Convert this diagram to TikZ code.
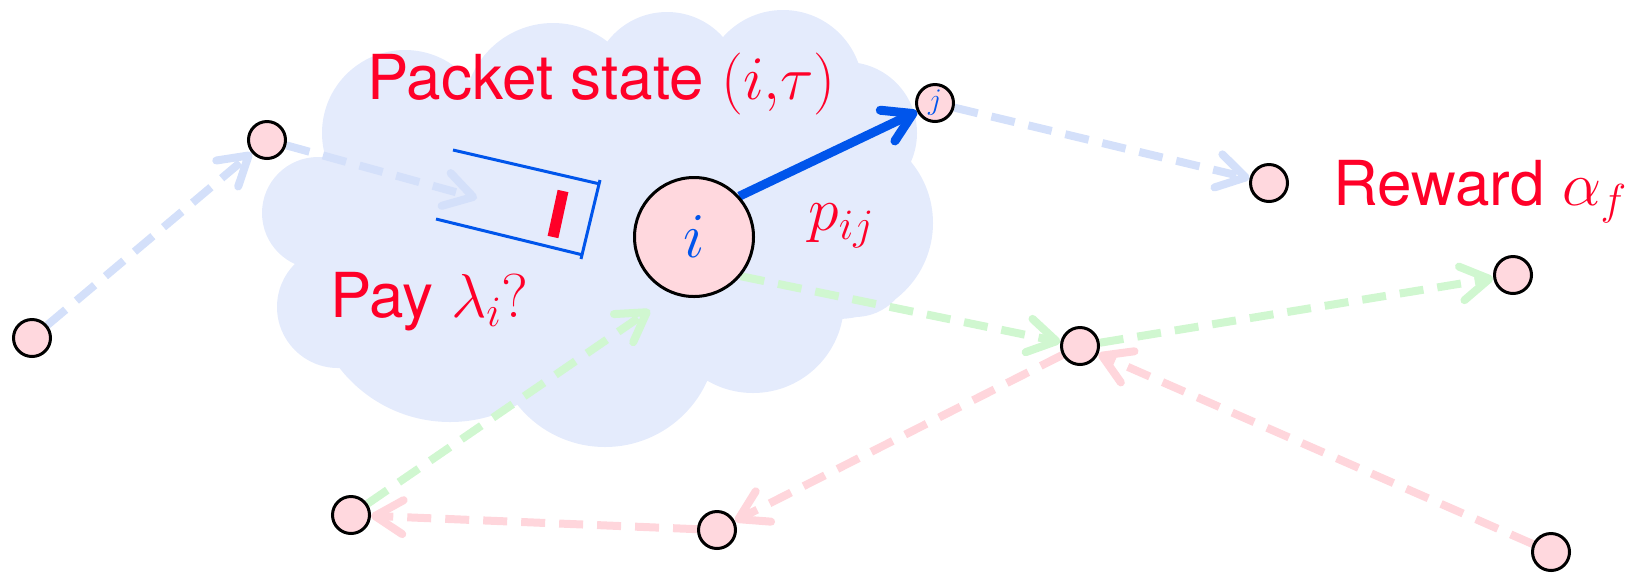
\documentclass[tikz,border=0pt]{standalone}
\usepackage{fix-cm}
\usepackage{fontspec}
\setmainfont{TeX Gyre Heros}
\usepackage{amsmath}
\usetikzlibrary{arrows.meta,calc}

\definecolor{cloudblue}{RGB}{228,235,252}
\definecolor{nodepink}{RGB}{255,216,222}
\definecolor{textred}{RGB}{255,0,40}
\definecolor{linkblue}{RGB}{0,85,235}
\definecolor{paleblue}{RGB}{212,224,250}
\definecolor{palegreen}{RGB}{208,247,208}
\definecolor{palepink}{RGB}{255,214,220}

\pgfdeclarelayer{cloud}
\pgfdeclarelayer{links}
\pgfsetlayers{cloud,links,main}

\begin{document}
\begin{tikzpicture}[x=0.5pt,y=-0.5pt,
  hop/.style={circle,draw=black,line width=1.5pt,fill=nodepink,
              minimum size=18.5pt,inner sep=0pt},
  router/.style={hop,minimum size=59.5pt,text=linkblue,
                 font=\fontsize{32}{36}\selectfont},
  lab/.style={text=textred,font=\fontsize{31}{36}\selectfont,
              inner sep=0pt,anchor=base west},
  tip/.style={-{Straight Barb[length=14pt,width=17pt,line cap=round,line join=round]}},
  flow/.style={tip,line width=4pt,dash pattern=on 12pt off 7pt},
  move/.style={tip,linkblue,line width=4.5pt}
]
\useasboundingbox (0,0) rectangle (1627,575);

\node[hop] (a) at (32,338) {};
\node[hop] (b) at (267,140) {};
\node[router] (i) at (694,237) {$i$};
\node[hop,text=linkblue,font=\fontsize{15}{16}\selectfont] (j) at (935,103) {$j$};
\node[hop] (c) at (1269,183) {};
\node[hop] (d) at (1513,275) {};
\node[hop] (e) at (1080,346) {};
\node[hop] (f) at (1551,552) {};
\node[hop] (g) at (717,530) {};
\node[hop] (h) at (351,515) {};

\coordinate (qin) at (477,198);
\coordinate (hin) at (650,310);

\node[lab] (state) at (367,99) {Packet state $(i{,}\tau)$};
\node[lab] (pay) at (330,317) {Pay $\lambda_i\mathit{?}$};
\node[lab] (reward) at (1333,205) {Reward $\alpha_f$};
\node[lab] (prob) at (808,230) {$p_{ij}$};

% queue in front of node i
\draw[linkblue,line width=1.5pt] (453,150) -- (600,184)
  (436,219) -- (583,255) (600,180) -- (581,259);
\draw[textred,line width=5.5pt] (563,191) -- (553,237);

\begin{pgfonlayer}{cloud}
\fill[cloudblue] (405,133) circle (83) (553,112) circle (89)
  (667,87) circle (75) (783,90) circle (80) (846,133) circle (71)
  (837,223) circle (96) (855,262) circle (55) (753,302) circle (91)
  (605,335) circle (112) (450,282) circle (140) (338,307) circle (61)
  (318,213) circle (56) (600,230) circle (160) (450,220) circle (120)
  (760,200) circle (130);
\end{pgfonlayer}

\begin{pgfonlayer}{links}
\draw[flow,paleblue] (a) -- (b);
\draw[flow,paleblue] (b) -- (qin);
\draw[flow,paleblue] (j) -- (c);
\draw[move] (i.42) -- (j);
\draw[flow,palegreen] (i.-40) -- (e);
\draw[flow,palegreen] (e) -- (d);
\draw[flow,palegreen] (h) -- (hin);
\draw[flow,palepink] (f) -- (e);
\draw[flow,palepink] (e) -- (g);
\draw[flow,palepink] (g) -- (h);
\end{pgfonlayer}
\end{tikzpicture}
\end{document}
